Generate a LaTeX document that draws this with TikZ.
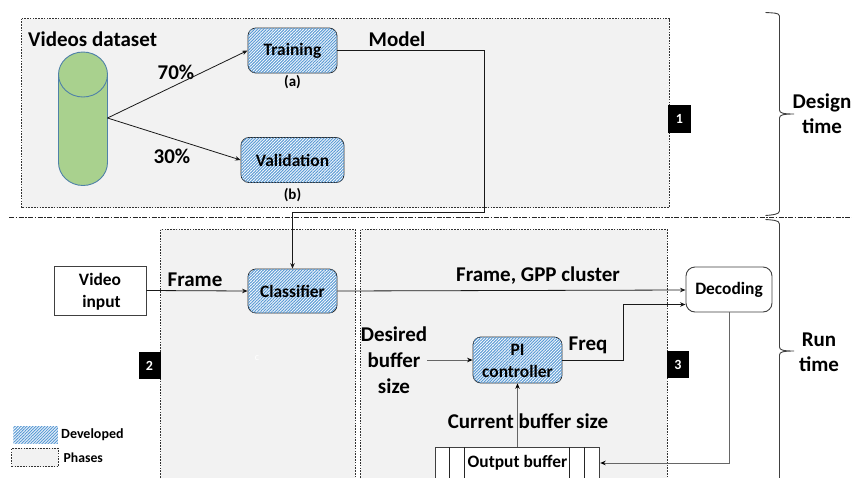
\documentclass[tikz,border=0pt]{standalone}
\usepackage{fontspec}
\setmainfont{Carlito}
\usetikzlibrary{arrows.meta,patterns.meta}
\definecolor{phasefill}{HTML}{F2F2F2}
\definecolor{cylfill}{HTML}{A9D18E}
\definecolor{cylline}{HTML}{4F81A8}
\definecolor{hatch}{HTML}{5B9BD5}
\newcommand{\fs}[1]{\fontsize{#1}{#1}\selectfont\bfseries}
\tikzset{
  phase/.style={draw=black!80,dash pattern=on 1.6pt off 1.2pt,line width=.8pt,fill=phasefill},
  hatched/.style={fill=white,postaction={pattern={Lines[angle=45,distance=2.1pt,line width=1.05pt]},pattern color=hatch}},
  devbox/.style={hatched,draw=black!85,line width=.8pt,rounded corners=8pt,align=center,inner sep=0pt,font=\fs{17.4}},
  plainbox/.style={draw=black!75,fill=white,line width=.9pt,align=center,inner sep=0pt,font=\fs{17.4}},
  badge/.style={fill=black,text=white,inner sep=0pt,font=\fs{14}},
  lab/.style={inner sep=0pt,align=center,font=\fs{21},text=black},
  conn/.style={black!90,line width=.8pt,-{Stealth[length=5.5pt,width=4.5pt]}},
  gconn/.style={black!60,line width=1pt,-{Stealth[length=5.5pt,width=4.5pt,black]}},
  bracepath/.style={draw=black!75,line width=.9pt}
}
\begin{document}
\begin{tikzpicture}[x=1pt,y=-1pt]
\useasboundingbox (0,0) rectangle (852,477);
\clip (0,0) rectangle (852,477);
\fill[white] (0,0) rectangle (852,477);
% phases
\draw[phase] (21.5,18.5) rectangle (669,207.5);
\draw[phase] (160.5,229.5) rectangle (355,490);
\draw[phase] (360.5,229.5) rectangle (667,490);
\draw[black!85,line width=.8pt,dash pattern=on 5pt off 1.5pt on 1.5pt off 1.5pt] (9,217) -- (852,217);
% cylinder
\draw[cylline,line width=.9pt,fill=cylfill] (58.5,74.5) arc[start angle=180,end angle=0,x radius=24.5pt,y radius=22.5pt] -- (107.5,162.5) arc[start angle=0,end angle=-180,x radius=24.5pt,y radius=23pt] -- cycle;
\draw[cylline,line width=.9pt] (58.5,74.5) arc[start angle=180,end angle=360,x radius=24.5pt,y radius=22.5pt];
\coordinate (cylr) at (107.5,118);
% nodes
\node[devbox,minimum width=89pt,minimum height=45pt] (train) at (292.5,50.5) {Training};
\node[devbox,minimum width=103pt,minimum height=45pt] (valid) at (292.5,160) {Validation};
\node[devbox,minimum width=89pt,minimum height=44pt] (classif) at (292.5,291) {Classifier};
\node[devbox,minimum width=89pt,minimum height=46pt] (pi) at (517.5,360) {\rule{0pt}{14pt}PI\\[4.5pt]controller};
\node[plainbox,minimum width=92pt,minimum height=49pt] (video) at (100,290.5) {\rule{0pt}{15pt}Video\\[4.5pt]\,input};
\node[plainbox,rounded corners=9pt,minimum width=86pt,minimum height=45pt] (dec) at (729,289.5) {Decoding};
% buffer
\node[plainbox,anchor=north,minimum width=164.5pt,minimum height=60pt] (buf) at (517.5,447) {};
\draw[black!85,line width=.8pt] (449.5,447) -- (449.5,490) (464,447) -- (464,490) (569,447) -- (569,490) (584.5,447) -- (584.5,490);
\node[inner sep=0pt,font=\fs{17.4},text=black] (buftext) at (517.5,463) {Output buffer};
% labels
\node[lab,anchor=west] (tvd) at (28,39) {Videos dataset};
\node[lab] (t70) at (176,72) {70\%};
\node[lab] (t30) at (172,156.5) {30\%};
\node[lab] (tmodel) at (397,39) {Model};
\node[inner sep=0pt,font=\fs{15},text=black] (ta) at (292.5,82.5) {(a)};
\node[inner sep=0pt,font=\fs{15},text=black] (tb) at (292.5,195) {(b)};
\node[lab] (tframe) at (195,280) {Frame};
\node[lab] (tgpp) at (538,275.5) {Frame, GPP cluster};
\node[lab] (tdes) at (394,360) {Desired\\[5pt]buffer\\[5pt]size};
\node[lab] (tfreq) at (588,345) {Freq};
\node[lab] (tcur) at (528,421) {Current buffer size};
\node[lab] (tdesign) at (822,113.5) {Design\\[4pt]time};
\node[lab] (trun) at (819,352) {Run\\[4pt]time};
\node[inner sep=0pt,font=\fontsize{10}{10}\selectfont,text=white] (tc) at (257,358) {c};
% badges
\node[badge,minimum width=23pt,minimum height=28pt] (b1) at (679.5,119) {1};
\node[badge,minimum width=22pt,minimum height=27pt] (b2) at (149.5,365.5) {2};
\node[badge,minimum width=22pt,minimum height=27pt] (b3) at (678,364.5) {3};
% connectors
\draw[conn] (cylr) -- (train.west);
\draw[conn] (cylr) -- (valid.west);
\coordinate (m1) at (484,50.5);
\coordinate (m2) at (484,212);
\coordinate (m3) at (292.5,212);
\draw[conn] (train.east) -- (m1) -- (m2) -- (m3) -- (classif.north);
\draw[conn] (video.east) -- (classif.west);
\coordinate (decin1) at (dec.west |- 0,290);
\coordinate (decin2) at (dec.west |- 0,304.5);
\draw[conn] (classif.east) -- (decin1);
\coordinate (f1) at (623.5,360);
\coordinate (f2) at (623.5,304.5);
\draw[conn] (pi.east) -- (f1) -- (f2) -- (decin2);
\draw[gconn] (tdes.east |- pi.west) -- (pi.west);
\draw[gconn] (buf.north) -- (pi.south);
\coordinate (d1) at (dec.south |- 0,463);
\coordinate (bufr) at (buf.east |- 0,463);
\draw[gconn] (dec.south) -- (d1) -- (bufr);
% braces
\draw[bracepath] (765.5,12.5) .. controls (772,13) and (779.5,12.5) .. (779.5,16) -- (779.5,110) .. controls (779.5,113) and (783,114) .. (794,114) .. controls (783,114) and (779.5,115) .. (779.5,118) -- (779.5,211) .. controls (779.5,214.5) and (772,215) .. (765.5,215.5);
\draw[bracepath] (765.5,219.5) .. controls (772,220) and (779.5,220) .. (779.5,224) -- (779.5,347) .. controls (779.5,350) and (783,351) .. (794,351) .. controls (783,351) and (779.5,352) .. (779.5,355) -- (779.5,490);
% legend
\node[hatched,inner sep=0pt,minimum width=44.5pt,minimum height=17pt] (legdev) at (35.5,434.5) {};
\node[phase,inner sep=0pt,minimum width=46.5pt,minimum height=18.5pt] (legph) at (35,457.5) {};
\node[inner sep=0pt,anchor=west,font=\fs{14},text=black] (tdev) at (61,434.5) {Developed};
\node[inner sep=0pt,anchor=west,font=\fs{13.7},text=black] (tph) at (63.5,457.5) {Phases};
\end{tikzpicture}
\end{document}
